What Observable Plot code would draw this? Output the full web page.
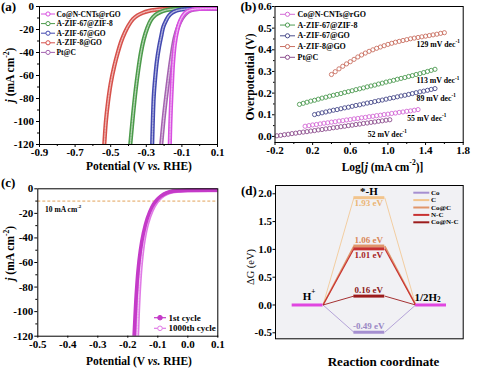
<!DOCTYPE html>
<html><head><meta charset="utf-8">
<script src="https://cdn.jsdelivr.net/npm/d3@7"></script>
<script src="https://cdn.jsdelivr.net/npm/@observablehq/plot@0.6"></script>
<style>
html,body{margin:0;padding:0;background:#fff;}
#fig{position:relative;width:480px;height:371px;overflow:hidden;background:#fff;}
#fig svg{position:absolute;}
</style></head><body><div id="fig"></div>
<script>
const SERIF = "'Liberation Serif','Times New Roman',Times,serif";

// ---------------- (a) LSV curves: [potential V vs RHE, j mA cm-2] ----------------
const aNames = ["Co@N-CNTs@rGO","A-ZIF-67@ZIF-8","A-ZIF-67@GO","A-ZIF-8@GO","Pt@C"];
const aCoNCNTs = [[0.1,-1.8],[0.0,-2.0],[-0.04,-2.6],[-0.07,-4.2],[-0.09,-7],[-0.11,-12.5],[-0.125,-20],[-0.14,-33],[-0.15,-50],[-0.156,-68],[-0.161,-85],[-0.165,-102],[-0.168,-120]];
const aZif67Zif8 = [[0.1,-1.8],[-0.1,-1.9],[-0.15,-2.3],[-0.19,-3.2],[-0.22,-4.8],[-0.25,-7.5],[-0.275,-12],[-0.295,-19],[-0.315,-29],[-0.33,-40],[-0.345,-55],[-0.36,-73],[-0.375,-95],[-0.39,-120]];
const aZif67GO = [[0.1,-1.8],[-0.05,-2.0],[-0.1,-2.6],[-0.13,-3.6],[-0.155,-5.5],[-0.175,-8.5],[-0.19,-12.5],[-0.205,-18],[-0.215,-25],[-0.228,-35],[-0.24,-47],[-0.25,-62],[-0.258,-78],[-0.263,-98],[-0.267,-120]];
const aZif8GO = [[0.1,-1.8],[-0.1,-1.9],[-0.2,-2.3],[-0.25,-2.9],[-0.29,-4],[-0.32,-5.5],[-0.35,-7.8],[-0.375,-11],[-0.4,-16.5],[-0.42,-22.5],[-0.44,-30],[-0.46,-40],[-0.48,-52],[-0.5,-67],[-0.515,-83],[-0.527,-100],[-0.536,-120]];
const aPtC = [[0.1,-1.8],[0.0,-2.0],[-0.03,-2.6],[-0.06,-4],[-0.08,-6.5],[-0.1,-10.5],[-0.12,-17],[-0.14,-27],[-0.16,-45],[-0.18,-68],[-0.2,-94],[-0.216,-120]];
const aTicksX = [-0.9,-0.7,-0.5,-0.3,-0.1,0.1];
const aMinorX = [-0.8,-0.6,-0.4,-0.2,0.0];
const aTicksY = [0,-20,-40,-60,-80,-100,-120];
const aMinorY = [-10,-30,-50,-70,-90,-110];
const aColors = ["#d84fe0","#4b9a4a","#4349b0","#d6504a","#a463b0"];

// ---------------- (b) Tafel plots: [log j, overpotential V] ----------------
const bCoNCNTs = [[0.12,0.047],[0.16,0.050],[0.20,0.053],[0.24,0.055],[0.28,0.058],[0.32,0.061],[0.36,0.063],[0.40,0.066],[0.44,0.068],[0.48,0.071],[0.52,0.073],[0.56,0.076],[0.60,0.078],[0.64,0.081],[0.68,0.083],[0.72,0.086],[0.76,0.088],[0.80,0.091],[0.84,0.093],[0.88,0.096],[0.92,0.098],[0.96,0.101],[1.00,0.103],[1.04,0.106],[1.08,0.108],[1.12,0.111],[1.16,0.113],[1.20,0.116],[1.24,0.118],[1.28,0.121],[1.32,0.124]];
const bZif67Zif8 = [[0.06,0.148],[0.10,0.153],[0.14,0.158],[0.18,0.163],[0.22,0.167],[0.26,0.172],[0.30,0.177],[0.34,0.181],[0.38,0.186],[0.42,0.190],[0.46,0.194],[0.50,0.198],[0.54,0.203],[0.58,0.207],[0.62,0.211],[0.66,0.216],[0.70,0.220],[0.74,0.224],[0.78,0.229],[0.82,0.233],[0.86,0.237],[0.90,0.242],[0.94,0.246],[0.98,0.251],[1.02,0.255],[1.06,0.259],[1.10,0.264],[1.14,0.268],[1.18,0.272],[1.22,0.277],[1.26,0.281],[1.30,0.286],[1.34,0.290],[1.38,0.295],[1.42,0.300],[1.46,0.305],[1.50,0.310]];
const bZif67GO = [[0.22,0.101],[0.26,0.105],[0.30,0.109],[0.34,0.113],[0.38,0.117],[0.42,0.121],[0.46,0.124],[0.50,0.128],[0.54,0.132],[0.58,0.135],[0.62,0.139],[0.66,0.143],[0.70,0.146],[0.74,0.150],[0.78,0.154],[0.82,0.157],[0.86,0.161],[0.90,0.165],[0.94,0.168],[0.98,0.172],[1.02,0.176],[1.06,0.179],[1.10,0.183],[1.14,0.187],[1.18,0.190],[1.22,0.194],[1.26,0.198],[1.30,0.202],[1.34,0.206],[1.38,0.209],[1.42,0.213],[1.46,0.217],[1.50,0.221]];
const bZif8GO = [[0.40,0.286],[0.44,0.299],[0.48,0.312],[0.52,0.324],[0.56,0.335],[0.60,0.345],[0.64,0.356],[0.68,0.367],[0.72,0.376],[0.76,0.385],[0.80,0.393],[0.84,0.400],[0.88,0.407],[0.92,0.413],[0.96,0.419],[1.00,0.425],[1.04,0.430],[1.08,0.435],[1.12,0.439],[1.16,0.443],[1.20,0.447],[1.24,0.451],[1.28,0.454],[1.32,0.457],[1.36,0.460],[1.40,0.463],[1.44,0.466],[1.48,0.469],[1.52,0.472],[1.56,0.476],[1.60,0.479]];
const bPtC = [[-0.18,0.003],[-0.14,0.005],[-0.10,0.008],[-0.06,0.010],[-0.02,0.013],[0.02,0.015],[0.06,0.018],[0.10,0.020],[0.14,0.022],[0.18,0.025],[0.22,0.027],[0.26,0.030],[0.30,0.032],[0.34,0.035],[0.38,0.037],[0.42,0.040],[0.46,0.042],[0.50,0.045],[0.54,0.047],[0.58,0.050],[0.62,0.052],[0.66,0.055],[0.70,0.057],[0.74,0.060],[0.78,0.062],[0.82,0.065],[0.86,0.067],[0.90,0.070],[0.94,0.072],[0.98,0.075],[1.02,0.077]];
const bSlopes = ["55","113","89","129","52"];            // mV dec-1, same order as aNames
const bSlopeAt = [[1.21,0.083],[1.31,0.256],[1.31,0.175],[1.31,0.4245],[0.79,0.007]];
const bTicksX = [-0.2,0.2,0.6,1.0,1.4,1.8];
const bMinorX = [0.0,0.4,0.8,1.2,1.6];
const bTicksY = [0.0,0.1,0.2,0.3,0.4,0.5,0.6];
const bMinorY = [0.05,0.15,0.25,0.35,0.45,0.55];
const bColors = ["#d46bd6","#4e9b52","#4b4d8c","#c97062","#8d4f8f"];

// ---------------- (c) stability ----------------
const cNames = ["1st cycle","1000th cycle"];
const cFirst = [[0.1,-1.2],[0.0,-1.3],[-0.03,-1.6],[-0.05,-1.9],[-0.07,-3.2],[-0.09,-6.0],[-0.105,-9.5],[-0.12,-15],[-0.135,-24],[-0.148,-36],[-0.158,-50],[-0.166,-67],[-0.172,-87],[-0.176,-105],[-0.179,-120]];
const c1000 = [[0.1,-1.0],[0.0,-1.2],[-0.03,-1.7],[-0.05,-2.2],[-0.07,-3.7],[-0.09,-6.8],[-0.105,-11],[-0.12,-17.5],[-0.135,-28],[-0.147,-42],[-0.156,-60],[-0.162,-80],[-0.166,-100],[-0.169,-120]];
const cRef = -10;   // 10 mA cm-2 line
const cTicksX = [-0.5,-0.4,-0.3,-0.2,-0.1,0.0,0.1];
const cTicksY = [0,-20,-40,-60,-80,-100,-120];
const cMinorY = [-10,-30,-50,-70,-90,-110];
const cColors = ["#c43ac8","#e07ae6"];

// ---------------- (d) free-energy diagram ----------------
const dSteps = [1,2,3];   // H+, *-H, 1/2H2 along reaction coordinate
const dNames = ["Co","C","Co@C","N-C","Co@N-C"];
const dG = [-0.49,1.93,1.06,1.01,0.16];
const dLabels = ["-0.49 eV","1.93 eV","1.06 eV","1.01 eV","0.16 eV"];
const dSide = ["above","below","above","below","above"];
const dColors = ["#a58fd0","#f2c48c","#e0956a","#c83232","#9c1c1c"];
const dTextColors = ["#9a88c4","#ebb575","#d98858","#a82424","#8c1a1a"];
const dLinkW = [0.8,0.8,1.6,1.2,0.9];
const dTicksY = [-0.5,0.0,0.5,1.0,1.5,2.0];

// ---------------- helpers ----------------
const fig = document.getElementById("fig");
function baseStyle(){ return {fontFamily: SERIF, fontSize: "11px", fontWeight: "bold", background: "transparent", color: "black", overflow: "visible"}; }
function place(svg, left, top){ svg.style.left = left + "px"; svg.style.top = top + "px"; fig.appendChild(svg); }
function band(pts, color, hollow, w = 4.2) {
  const o = {x: d => d[0], y: d => d[1], curve: "catmull-rom", clip: true};
  const m = [Plot.line(pts, {...o, stroke: color, strokeWidth: w})];
  if (hollow) m.push(Plot.line(pts, {...o, stroke: "white", strokeWidth: 1.3, strokeOpacity: 0.6, strokeDasharray: "1.6,1.1"}));
  return m;
}
function rich(svg, x, y, parts, o = {}) {
  const size = o.size || 11;
  const t = d3.select(svg).append("text")
    .attr("transform", `translate(${x},${y})${o.rotate ? ` rotate(${o.rotate})` : ""}`)
    .attr("text-anchor", o.anchor || "middle")
    .attr("dominant-baseline", "central")
    .attr("font-family", SERIF).attr("font-size", size)
    .attr("font-weight", o.weight || "bold").attr("fill", o.fill || "black");
  let cur = 0;
  for (const p of parts) {
    const s = t.append("tspan").text(p.t);
    const shift = p.sup ? -0.38 * size : p.sub ? 0.25 * size : 0;
    if (shift !== cur) { s.attr("dy", shift - cur); cur = shift; }
    if (p.sup || p.sub) s.attr("font-size", size * 0.66);
    if (p.it) s.attr("font-style", "italic");
  }
  return t;
}
function legend(svg, items, o) {
  const g = d3.select(svg).append("g").attr("text-anchor", "start");
  items.forEach((it, i) => {
    const y = o.y0 + i * o.dy;
    g.append("line").attr("x1", o.x0).attr("x2", o.x1).attr("y1", y).attr("y2", y).attr("stroke", it.color).attr("stroke-width", o.lw);
    if (o.r) g.append("circle").attr("cx", o.cx).attr("cy", y).attr("r", o.r).attr("fill", it.filled ? it.color : "white").attr("stroke", it.color).attr("stroke-width", 1);
    g.append("text").attr("x", o.tx).attr("y", y).attr("text-anchor", "start").attr("dominant-baseline", "central").attr("font-size", o.size)
      .attr("font-weight", "bold").attr("font-family", SERIF).attr("fill", "black").text(it.label);
  });
}
const fmt1 = d => d.toFixed(1);
const blank = () => "";

// ---------------- panel (a) ----------------
const aCurves = [aCoNCNTs, aZif67Zif8, aZif67GO, aZif8GO, aPtC];
const A = Plot.plot({
  width: 240, height: 176, marginLeft: 39, marginRight: 23, marginTop: 6, marginBottom: 32,
  style: baseStyle(),
  x: {domain: [-0.9, 0.1]}, y: {domain: [-120, 0]},
  marks: [
    ...[3,1,2,4,0].flatMap(i => band(aCurves[i], aColors[i], true)),
    Plot.frame({stroke: "black", strokeWidth: 1}),
    Plot.axisX(aTicksX, {tickSize: 3, tickPadding: 0.5, tickFormat: fmt1, label: null}),
    Plot.axisX(aMinorX, {tickSize: 2, tickFormat: blank, label: null}),
    Plot.axisY(aTicksY, {tickSize: 3, tickPadding: 2.5, tickFormat: d => String(d), label: null}),
    Plot.axisY(aMinorY, {tickSize: 2, tickFormat: blank, label: null})
  ]
});
place(A, 0, 0);
rich(A, 1, 6, [{t: "(a)"}], {anchor: "start", size: 13});
rich(A, 10, 75, [{t: "j", it: true}, {t: " (mA cm"}, {t: "-2", sup: true}, {t: ")"}], {rotate: -90, size: 11.5});
rich(A, 139, 166, [{t: "Potential (V "}, {t: "vs.", it: true}, {t: " RHE)"}], {size: 11.5});
legend(A, aNames.map((n, i) => ({label: n, color: aColors[i]})), {x0: 41, x1: 55, cx: 48, tx: 56.5, y0: 14, dy: 9.6, size: 7.5, r: 2.1, lw: 1});

// ---------------- panel (b) ----------------
const bSeries = [bCoNCNTs, bZif67Zif8, bZif67GO, bZif8GO, bPtC];
const B = Plot.plot({
  width: 240, height: 176, marginLeft: 34.5, marginRight: 17.3, marginTop: 6, marginBottom: 34,
  style: baseStyle(),
  x: {domain: [-0.2, 1.8]}, y: {domain: [-0.028, 0.6]},
  marks: [
    ...bSeries.map((s, i) => Plot.dot(s, {x: d => d[0], y: d => d[1], r: 2.1, stroke: bColors[i], fill: "none", strokeWidth: 0.9, clip: true})),
    Plot.frame({stroke: "black", strokeWidth: 1}),
    Plot.axisX(bTicksX, {tickSize: 3, tickPadding: 1, tickFormat: fmt1, label: null}),
    Plot.axisX(bMinorX, {tickSize: 2, tickFormat: blank, label: null}),
    Plot.axisY(bTicksY, {tickSize: 2.5, tickPadding: 0.8, tickFormat: fmt1, label: null}),
    Plot.axisY(bMinorY, {tickSize: 1.5, tickFormat: blank, label: null})
  ]
});
place(B, 240, 0);
rich(B, 0.5, 6, [{t: "(b)"}], {anchor: "start", size: 13});
rich(B, 10, 77, [{t: "Overpotential (V)"}], {rotate: -90, size: 11.5});
rich(B, 142.5, 166.7, [{t: "Log["}, {t: "j", it: true}, {t: " (mA cm"}, {t: "-2", sup: true}, {t: ")]"}], {size: 11.5});
legend(B, aNames.map((n, i) => ({label: n, color: bColors[i]})), {x0: 40, x1: 55, cx: 47.5, tx: 57.5, y0: 14.3, dy: 10.75, size: 8, r: 2.1, lw: 1});
{
  const sx = B.scale("x"), sy = B.scale("y");
  bSlopes.forEach((s, i) => rich(B, sx.apply(bSlopeAt[i][0]), sy.apply(bSlopeAt[i][1]), [{t: s + " mV dec"}, {t: "-1", sup: true}], {anchor: "start", size: 7.8}));
}

// ---------------- panel (c) ----------------
const C = Plot.plot({
  width: 240, height: 195, marginLeft: 37.3, marginRight: 22.7, marginTop: 12.3, marginBottom: 35.3,
  style: baseStyle(),
  x: {domain: [-0.5, 0.1]}, y: {domain: [-120, 0]},
  marks: [
    Plot.ruleY([cRef], {stroke: "#e2a35a", strokeDasharray: "3,2", strokeWidth: 1}),
    ...band(c1000, cColors[1], true),
    ...band(cFirst, cColors[0], false, 3.6),
    Plot.frame({stroke: "black", strokeWidth: 1}),
    Plot.axisX(cTicksX, {tickSize: 2, tickPadding: 1.8, tickFormat: fmt1, label: null}),
    Plot.axisY(cTicksY, {tickSize: 3, tickPadding: 1.5, tickFormat: d => String(d), label: null}),
    Plot.axisY(cMinorY, {tickSize: 2, tickFormat: blank, label: null})
  ]
});
place(C, 0, 176);
rich(C, 1, 5.5, [{t: "(c)"}], {anchor: "start", size: 13});
rich(C, 10, 77.3, [{t: "j", it: true}, {t: " (mA cm"}, {t: "-2", sup: true}, {t: ")"}], {rotate: -90, size: 11.5});
rich(C, 139, 184.5, [{t: "Potential (V "}, {t: "vs.", it: true}, {t: " RHE)"}], {size: 11.5});
rich(C, C.scale("x").apply(-0.474), C.scale("y").apply(-16.9), [{t: "10 mA cm"}, {t: "-2", sup: true}], {anchor: "start", size: 7.5});
legend(C, cNames.map((n, i) => ({label: n, color: cColors[i], filled: i === 0})), {x0: 154, x1: 166, cx: 160, tx: 168.5, y0: 141.7, dy: 10.6, size: 9, r: 2.3, lw: 1.2});

// ---------------- panel (d) ----------------
const dIdx = dG.map((_, i) => i);
const D = Plot.plot({
  width: 240, height: 195, marginLeft: 35, marginRight: 17.3, marginTop: 9, marginBottom: 32.7,
  style: baseStyle(),
  x: {domain: [0.48, 3.52], axis: null}, y: {domain: [-0.608, 2.149]},
  marks: [
    Plot.frame({fill: "#f1f1f4", stroke: "none"}),
    ...dIdx.map(i => Plot.link([i], {x1: () => dSteps[0] + 0.25, y1: () => 0, x2: () => dSteps[1] - 0.25, y2: () => dG[i], stroke: dColors[i], strokeWidth: dLinkW[i]})),
    ...dIdx.map(i => Plot.link([i], {x1: () => dSteps[1] + 0.25, y1: () => dG[i], x2: () => dSteps[2] - 0.25, y2: () => 0, stroke: dColors[i], strokeWidth: dLinkW[i]})),
    ...dIdx.map(i => Plot.ruleY([dG[i]], {x1: () => dSteps[1] - 0.25, x2: () => dSteps[1] + 0.25, stroke: dColors[i], strokeWidth: 3})),
    Plot.ruleY([0], {x1: () => dSteps[0] - 0.25, x2: () => dSteps[0] + 0.25, stroke: "#e046e0", strokeWidth: 3}),
    Plot.ruleY([0], {x1: () => dSteps[2] - 0.25, x2: () => dSteps[2] + 0.25, stroke: "#e046e0", strokeWidth: 3}),
    Plot.frame({stroke: "black", strokeWidth: 1}),
    Plot.axisY(dTicksY, {tickSize: 2.5, tickPadding: 1, tickFormat: fmt1, label: null})
  ]
});
place(D, 240, 176);
{
  const sx = D.scale("x"), sy = D.scale("y");
  dIdx.forEach(i => rich(D, sx.apply(dSteps[1]), sy.apply(dG[i]) + (dSide[i] === "above" ? -5.8 : 6.2), [{t: dLabels[i]}], {size: 9, fill: dTextColors[i]}));
  rich(D, sx.apply(dSteps[1]), sy.apply(1.93) - 6.5, [{t: "*-H"}], {size: 11});
  rich(D, sx.apply(dSteps[0]) + 2, sy.apply(0) - 8, [{t: "H"}, {t: "+", sup: true}], {size: 11});
  rich(D, sx.apply(dSteps[2]) - 3, sy.apply(0) - 7, [{t: "1/2H"}, {t: "2", sub: true}], {size: 11});
}
rich(D, 1, 14, [{t: "(d)"}], {anchor: "start", size: 13});
rich(D, 10, 91, [{t: "ΔG (eV)"}], {rotate: -90, size: 10.5, weight: "normal"});
rich(D, 143.5, 185, [{t: "Reaction coordinate"}], {size: 13});
legend(D, dNames.map((n, i) => ({label: n, color: dColors[i]})), {x0: 173.3, x1: 189.3, tx: 191, y0: 16.7, dy: 7.4, size: 7, lw: 2, r: 0});
</script></body></html>
